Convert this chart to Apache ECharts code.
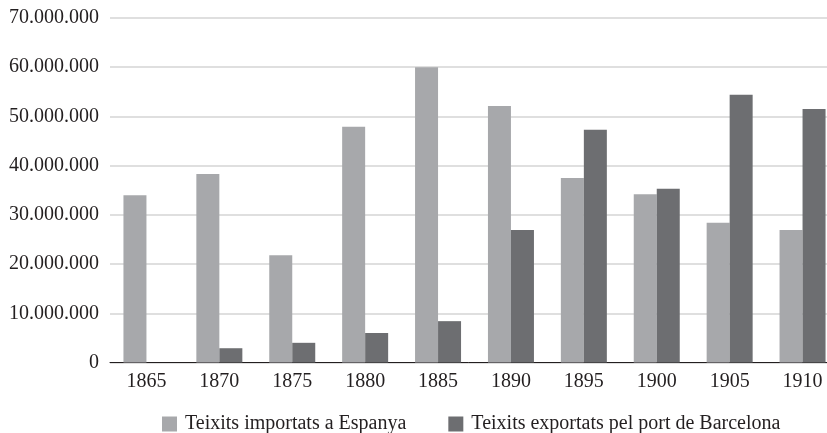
<!DOCTYPE html>
<html>
<head>
<meta charset="utf-8">
<script src="https://cdn.jsdelivr.net/npm/echarts@6/dist/echarts.min.js"></script>
<style>
  html, body { margin: 0; padding: 0; background: #ffffff; }
  #chart { width: 827px; height: 433px; }
</style>
</head>
<body>
<div id="chart"></div>
<script>
// Years on the category axis
const years = ['1865', '1870', '1875', '1880', '1885', '1890', '1895', '1900', '1905', '1910'];

// Textile values per year
const importsSpain = [34000000, 38300000, 21800000, 47900000, 60000000, 52100000, 37500000, 34200000, 28400000, 26900000];
const exportsBarcelona = [0, 2900000, 4000000, 6000000, 8400000, 26900000, 47300000, 35300000, 54400000, 51500000];

const seriesNames = ['Teixits importats a Espanya', 'Teixits exportats pel port de Barcelona'];

const fontFamily = '"Liberation Serif", "DejaVu Serif", serif';
const textColor = '#231f20';

// Thousands separated with dots
function formatDots(v) {
  return String(Math.round(v)).replace(/\B(?=(\d{3})+(?!\d))/g, '.');
}

const chart = echarts.init(document.getElementById('chart'), null, { renderer: 'canvas' });

chart.setOption({
  animation: false,
  backgroundColor: '#ffffff',
  grid: {
    left: 110, width: 729, top: 18, bottom: 70.5,
    containLabel: false,
    outerBoundsMode: 'none'
  },
  legend: {
    left: 157,
    top: 409,
    itemWidth: 15,
    itemHeight: 15,
    itemGap: 42,
    icon: 'rect',
    textStyle: { fontFamily: fontFamily, fontSize: 20, color: textColor, padding: [0, 0, 0, 3] },
    data: seriesNames
  },
  xAxis: {
    type: 'category',
    data: years,
    axisLine: { show: true, lineStyle: { color: '#231f20', width: 1 } },
    axisTick: { show: false },
    axisLabel: { fontFamily: fontFamily, fontSize: 20, color: textColor, margin: 9 }
  },
  yAxis: {
    type: 'value',
    min: 0,
    max: 70000000,
    interval: 10000000,
    axisLine: { show: false },
    axisTick: { show: false },
    splitLine: { lineStyle: { color: '#d4d4d4', width: 1.5 } },
    axisLabel: {
      fontFamily: fontFamily, fontSize: 20, color: textColor, margin: 11,
      formatter: formatDots
    }
  },
  series: [
    {
      name: seriesNames[0],
      type: 'bar',
      data: importsSpain,
      barWidth: 23,
      barGap: '0%',
      itemStyle: { color: '#a7a8ab' }
    },
    {
      name: seriesNames[1],
      type: 'bar',
      data: exportsBarcelona,
      barWidth: 23,
      barGap: '0%',
      itemStyle: { color: '#6d6e71' }
    }
  ]
});
</script>
</body>
</html>
